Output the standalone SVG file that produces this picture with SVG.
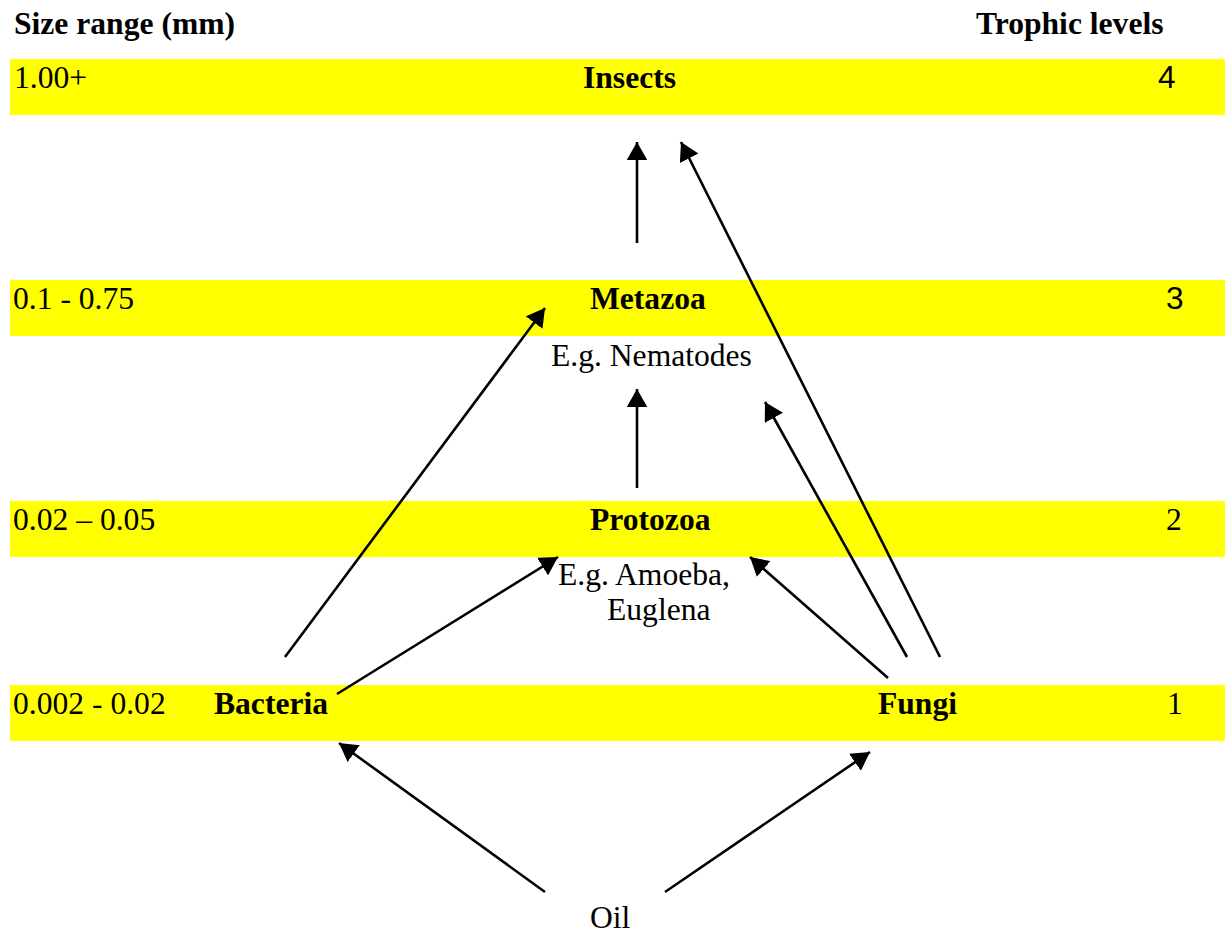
<svg xmlns="http://www.w3.org/2000/svg" width="1225" height="938" viewBox="0 0 1225 938">
<style>
text{font-family:"Liberation Serif","Times New Roman",serif;font-size:31.6px;fill:#000}
.b{font-weight:bold}
.s{font-family:"Liberation Sans",Arial,sans-serif}
.band{fill:#ffff00}
.c line{stroke:#000;stroke-width:2.6;marker-end:url(#ah)}
</style>
<defs>
<marker id="ah" markerWidth="8" markerHeight="8" refX="7" refY="4" orient="auto" markerUnits="strokeWidth">
<path d="M0,0 L7,4 L0,8 Z" fill="#000"/>
</marker>
</defs>
<rect width="1225" height="938" fill="#fff"/>
<g id="headers">
<text class="b" x="14" y="34">Size range (mm)</text>
<text class="b" x="976" y="34">Trophic levels</text>
</g>
<g id="level4">
<rect class="band" x="10" y="59" width="1215" height="56"/>
<text x="14" y="88">1.00+</text>
<text class="b" x="583" y="88">Insects</text>
<text class="s" x="1158" y="88">4</text>
</g>
<g id="level3">
<rect class="band" x="10" y="280" width="1215" height="56"/>
<text x="13" y="309">0.1 - 0.75</text>
<text class="b" x="590" y="309">Metazoa</text>
<text class="s" x="1166" y="309">3</text>
<text x="551" y="366">E.g. Nematodes</text>
</g>
<g id="level2">
<rect class="band" x="10" y="501" width="1215" height="56"/>
<text x="13" y="530">0.02 – 0.05</text>
<text class="b" x="590" y="530">Protozoa</text>
<text x="1166" y="530">2</text>
<text x="558" y="585">E.g. Amoeba,</text>
<text x="607" y="620">Euglena</text>
</g>
<g id="level1">
<rect class="band" x="10" y="685" width="1215" height="56"/>
<text x="13" y="714">0.002 - 0.02</text>
<text class="b" x="214" y="714">Bacteria</text>
<text class="b" x="878" y="714">Fungi</text>
<text x="1167" y="714">1</text>
</g>
<g id="oil">
<text x="590" y="928">Oil</text>
</g>
<g class="c" id="connectors">
<line x1="637" y1="243" x2="637" y2="142"/>
<line x1="940" y1="657" x2="681" y2="142"/>
<line x1="285" y1="657" x2="545" y2="308"/>
<line x1="637" y1="488" x2="637" y2="389"/>
<line x1="907" y1="657" x2="765" y2="402"/>
<line x1="337" y1="694" x2="558" y2="557"/>
<line x1="888" y1="678" x2="750" y2="557"/>
<line x1="545" y1="892" x2="339" y2="743"/>
<line x1="665" y1="892" x2="870" y2="752"/>
</g>
</svg>
